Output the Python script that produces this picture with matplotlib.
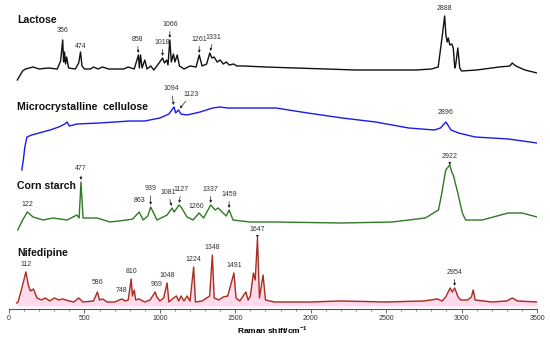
import numpy as np
import matplotlib.pyplot as plt

plt.rcParams['font.family'] = ['Liberation Sans', 'DejaVu Sans']
plt.rcParams['mathtext.fontset'] = 'custom'
plt.rcParams['mathtext.bf'] = 'Liberation Sans:bold'
plt.rcParams['mathtext.rm'] = 'Liberation Sans'

# spectra (wavenumber / cm-1, relative intensity)
lactose_wn = [55, 90, 110, 160, 200, 260, 320, 342, 356, 362,
              368, 375, 382, 395, 440, 462, 474, 484, 500, 540,
              560, 590, 620, 660, 760, 790, 830, 858, 864, 872,
              882, 900, 915, 940, 960, 990, 1018, 1030, 1045, 1054,
              1066, 1076, 1090, 1100, 1115, 1130, 1160, 1200, 1240, 1261,
              1280, 1310, 1331, 1345, 1360, 1380, 1400, 1420, 1440, 1460,
              1490, 1510, 1560, 1700, 1900, 2100, 2300, 2500, 2700, 2800,
              2845, 2871, 2888, 2896, 2905, 2912, 2922, 2935, 2945, 2955,
              2962, 2975, 2988, 3000, 3100, 3250, 3320, 3336, 3360, 3420,
              3500]
lactose_int = [-1, 8, 10, 12, 10, 11, 10, 18, 39, 17,
               27, 15, 22, 11, 10, 16, 27, 13, 10, 10,
               12, 10, 12, 10, 10, 12, 10, 24, 11, 24,
               11, 19, 10, 13, 9, 15, 21, 16, 19, 14,
               39, 17, 25, 17, 24, 13, 10, 13, 12, 24,
               13, 15, 26, 21, 22, 17, 19, 15, 17, 14,
               15, 13, 13, 12, 11, 10, 9, 9, 9, 10,
               12, 42, 63, 44, 37, 41, 34, 35, 31, 11,
               15, 31, 11, 8, 9, 12, 13, 16, 13, 9,
               6]

cellulose_wn = [85, 95, 105, 119, 150, 200, 272, 330, 370, 385,
                400, 450, 600, 700, 800, 900, 1000, 1060, 1094, 1105,
                1123, 1140, 1180, 1267, 1350, 1400, 1450, 1600, 1770, 1980,
                2210, 2430, 2650, 2820, 2860, 2896, 2930, 2980, 3090, 3310,
                3500]
cellulose_int = [-21, -11, 2, 12, 14, 16, 19, 22, 25, 27,
                 23, 25, 26, 27, 28, 28, 31, 35, 42, 36,
                 39, 35, 34, 37, 41, 42, 41, 41, 41, 36,
                 31, 27, 21, 19, 21, 27, 19, 16, 12, 10,
                 6]

starch_wn = [58, 90, 122, 159, 225, 292, 385, 424, 450, 465,
             477, 491, 540, 584, 670, 782, 820, 863, 889, 920,
             939, 981, 1048, 1081, 1095, 1127, 1145, 1180, 1220, 1260,
             1290, 1337, 1366, 1386, 1419, 1440, 1459, 1485, 1598, 1764,
             2200, 2540, 2760, 2847, 2869, 2895, 2922, 2935, 2945, 2975,
             3005, 3027, 3137, 3309, 3402, 3500]
starch_int = [-1, 9, 17, 12, 9, 11, 9, 12, 14, 11,
              47, 11, 11, 11, 7, 9, 10, 17, 9, 13,
              22, 9, 14, 21, 17, 24, 21, 12, 9, 16,
              11, 24, 19, 21, 16, 13, 19, 9, 7, 7,
              6, 7, 11, 19, 36, 59, 64, 57, 54, 36,
              16, 9, 9, 16, 16, 12]

nif_wn = [50, 60, 80, 112, 128, 142, 162, 185, 215, 240,
          270, 300, 330, 355, 400, 430, 462, 490, 560, 586,
          600, 620, 650, 700, 748, 770, 790, 810, 818, 830,
          840, 860, 900, 935, 969, 980, 1000, 1025, 1048, 1060,
          1090, 1110, 1125, 1140, 1160, 1180, 1200, 1224, 1236, 1280,
          1310, 1330, 1348, 1360, 1390, 1420, 1450, 1491, 1505, 1530,
          1570, 1585, 1600, 1620, 1632, 1647, 1660, 1684, 1700, 1760,
          2000, 2200, 2500, 2750, 2840, 2870, 2895, 2924, 2938, 2954,
          2977, 2995, 3040, 3065, 3077, 3090, 3200, 3300, 3336, 3370,
          3500]
nif_int = [6, 7, 18, 37, 24, 18, 20, 11, 9, 11,
           8, 11, 9, 10, 8, 7, 11, 7, 8, 17,
           9, 10, 7, 7, 10, 8, 9, 30, 13, 19,
           9, 10, 7, 9, 17, 12, 8, 11, 26, 7,
           11, 13, 8, 13, 8, 13, 8, 42, 7, 8,
           11, 13, 54, 11, 9, 12, 13, 36, 11, 8,
           17, 9, 13, 36, 29, 71, 11, 34, 9, 7,
           7, 8, 7, 8, 10, 8, 12, 21, 17, 21,
           12, 9, 9, 12, 19, 9, 7, 8, 11, 8,
           7]

names = ['Lactose', 'Microcrystalline  cellulose', 'Corn starch', 'Nifedipine']

lactose_peaks = ['356', '474', '858', '1018', '1066', '1261', '1331', '2888']
lactose_arrow = [0, 0, 1, 1, 1, 1, 1, 0]
cellulose_peaks = ['1094', '1123', '2896']
cellulose_arrow = [1, 1, 0]
starch_peaks = ['122', '477', '863', '939', '1081', '1127', '1260', '1337', '1459', '2922']
starch_arrow = [0, 1, 0, 1, 1, 1, 0, 1, 1, 1]
nif_peaks = ['112', '586', '748', '810', '969', '1048', '1224', '1348', '1491', '1647', '2954']
nif_arrow = [0, 0, 0, 0, 0, 0, 0, 0, 0, 1, 1]

# layout (pixels): vertical offsets of each trace, label nudges
offsets = [230, 160, 80, 0]
name_y = [59, 42, 43, 56]
nudge = {'356': (0, 6), '474': (0, 2.5), '858': (-1, 12), '1331': (4, 12),
         '1094': (-3, 14.5), '1123': (13, 12), '2896': (0, 6.5),
         '863': (0, 7.5), '477': (0, 9.5), '939': (0, 14.5), '1081': (-4, 12),
         '1127': (2, 12), '1260': (-3, 3.5), '2922': (0, 5),
         '586': (0, 6.5), '748': (0, 5.5), '969': (1, 4.5), '1647': (0, 5)}

colors = ['#111111', '#1a1aee', '#2f7a22', '#a5301f']

fig = plt.figure(figsize=(5.5, 3.37), dpi=100)
ax = fig.add_axes([9/550, 28/337, 528/550, 309/337])

spectra = [(lactose_wn, lactose_int, lactose_peaks, lactose_arrow),
           (cellulose_wn, cellulose_int, cellulose_peaks, cellulose_arrow),
           (starch_wn, starch_int, starch_peaks, starch_arrow),
           (nif_wn, nif_int, nif_peaks, nif_arrow)]

for i, (wn, inten, peaks, arrows) in enumerate(spectra):
    wn = np.array(wn)
    y = np.array(inten) + offsets[i]
    if i == 3:
        ax.fill_between(wn, 3, y + 1.5, color='#ffd9ec', lw=0)
    ax.plot(wn, y, color=colors[i], lw=1.0)
    ax.text(55, offsets[i] + name_y[i], names[i], fontsize=7.6, fontweight='bold',
            va='center', ha='left', color='#111111')
    for lab, arr in zip(peaks, arrows):
        p = float(lab)
        top = np.interp(p, wn, y)
        dx, dy = nudge.get(lab, (0, 12 if arr else 4))
        kw = {}
        if arr:
            kw['arrowprops'] = dict(arrowstyle='-|>', lw=0.5, color='#222222',
                                    mutation_scale=3.5, shrinkA=0.5, shrinkB=1.5)
        ax.annotate(lab, xy=(p, top), xytext=(dx*0.72, dy*0.72),
                    textcoords='offset points', ha='center', va='bottom',
                    fontsize=5, color='#333333', **kw)

ax.set_xlim(0, 3500)
ax.set_ylim(0, 309)
for s in ['left', 'right', 'top']:
    ax.spines[s].set_visible(False)
ax.spines['bottom'].set_color('#555555')
ax.spines['bottom'].set_linewidth(0.8)
ax.set_yticks([])
ax.set_xticks(np.arange(0, 3501, 500))
ax.set_xticks(np.arange(0, 3501, 100), minor=True)
ax.tick_params(axis='x', which='major', length=3, width=0.6, color='#555555',
               labelsize=5, labelcolor='#333333', pad=1.5)
ax.tick_params(axis='x', which='minor', length=1.5, width=0.5, color='#555555')
ax.set_xlabel(r'Raman shift/cm$^{\mathbf{-1}}$', fontsize=6, fontweight='bold',
              labelpad=1)
ax.patch.set_visible(False)

fig.savefig('out.png', dpi=100)
